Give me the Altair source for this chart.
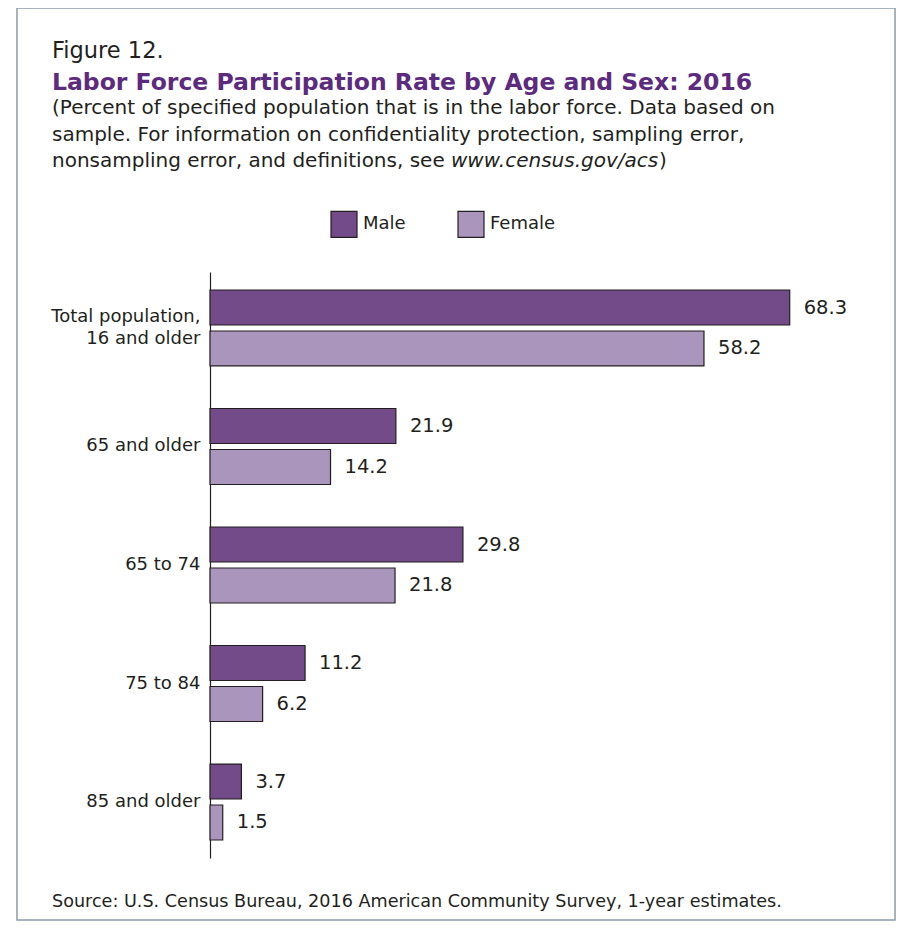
import altair as alt
import pandas as pd

categories = ["Total population,|16 and older", "65 and older", "65 to 74", "75 to 84", "85 and older"]
male = [68.3, 21.9, 29.8, 11.2, 3.7]
female = [58.2, 14.2, 21.8, 6.2, 1.5]
sexes = ["Male", "Female"]
colors = ["#734b89", "#aa95bd"]

rows = []
for c, m, f in zip(categories, male, female):
    rows.append({"cat": c, "sex": "Male", "val": m})
    rows.append({"cat": c, "sex": "Female", "val": f})
df = pd.DataFrame(rows)

FONT = "DejaVu Sans"
W, H = 679, 586

y_enc = alt.Y("cat:N", sort=categories,
              scale=alt.Scale(paddingInner=0.359, paddingOuter=0.152),
              axis=alt.Axis(title=None, ticks=False, tickSize=0, labelPadding=10,
                            labelFontSize=18, labelFont=FONT, labelColor="#231f20",
                            labelLineHeight=22, labelExpr="split(datum.label, '|')",
                            labelOffset={"condition": {"test": "indexof(datum.value, '|') >= 0", "value": -11}, "value": 0},
                            domainColor="#231f20", domainWidth=1.2, grid=False))
yoff = alt.YOffset("sex:N", sort=sexes, scale=alt.Scale(paddingInner=0.146, paddingOuter=0))
x_enc = alt.X("val:Q", scale=alt.Scale(domain=[0, 80]), axis=None)

bars = alt.Chart(df).mark_bar(stroke="#231f20", strokeWidth=1.2).encode(
    y=y_enc, yOffset=yoff, x=x_enc,
    color=alt.Color("sex:N", sort=sexes, scale=alt.Scale(domain=sexes, range=colors),
                    legend=alt.Legend(title=None, orient="none", legendX=120, legendY=-62,
                                      direction="horizontal", symbolType="square",
                                      symbolSize=676, symbolStrokeColor="#231f20",
                                      symbolStrokeWidth=1.2, labelFontSize=18, labelFont=FONT,
                                      labelColor="#231f20", labelOffset=5, columnPadding=49,
                                      padding=0)),
)
labels = alt.Chart(df).mark_text(align="left", baseline="middle", dx=14, fontSize=19.5,
                                 font=FONT, color="#231f20").encode(
    y=alt.Y("cat:N", sort=categories), yOffset=alt.YOffset("sex:N", sort=sexes), x="val:Q",
    text=alt.Text("val:Q", format=".1f"))

one = alt.Data(values=[{"a": 1}])

def txt(s, x, y, size, color="#231f20", weight="normal", style="normal"):
    return alt.Chart(one).mark_text(text=s, align="left", baseline="alphabetic", fontSize=size,
                                    font=FONT, color=color, fontWeight=weight,
                                    fontStyle=style).encode(x=alt.value(x), y=alt.value(y))

frame = alt.Chart(one).mark_rect(fill=None, stroke="#8c9ba5", strokeWidth=1.5).encode(
    x=alt.value(-193), x2=alt.value(685), y=alt.value(-264), y2=alt.value(648))

header = [
    frame,
    txt("Figure 12.", -158, -214, 22.5),
    txt("Labor Force Participation Rate by Age and Sex: 2016", -158, -182, 23.5, "#5c2a7e", "bold"),
    txt("(Percent of specified population that is in the labor force. Data based on", -158, -158, 20),
    txt("sample. For information on confidentiality protection, sampling error,", -158, -131, 20),
    txt("nonsampling error, and definitions, see ", -158, -105, 20),
    txt("www.census.gov/acs", 241, -105, 20, style="italic"),
    txt(")", 449, -105, 20),
    txt("Source: U.S. Census Bureau, 2016 American Community Survey, 1-year estimates.", -158, 635, 17.6),
]

chart = alt.layer(*header, bars, labels).properties(
    width=W, height=H,
    autosize=alt.AutoSizeParams(type="none"),
    padding={"left": 202, "top": 264, "right": 17, "bottom": 66},
).configure_view(strokeWidth=0, stroke=None)

chart.save("out.html", embed_options={"renderer": "svg", "actions": False})
